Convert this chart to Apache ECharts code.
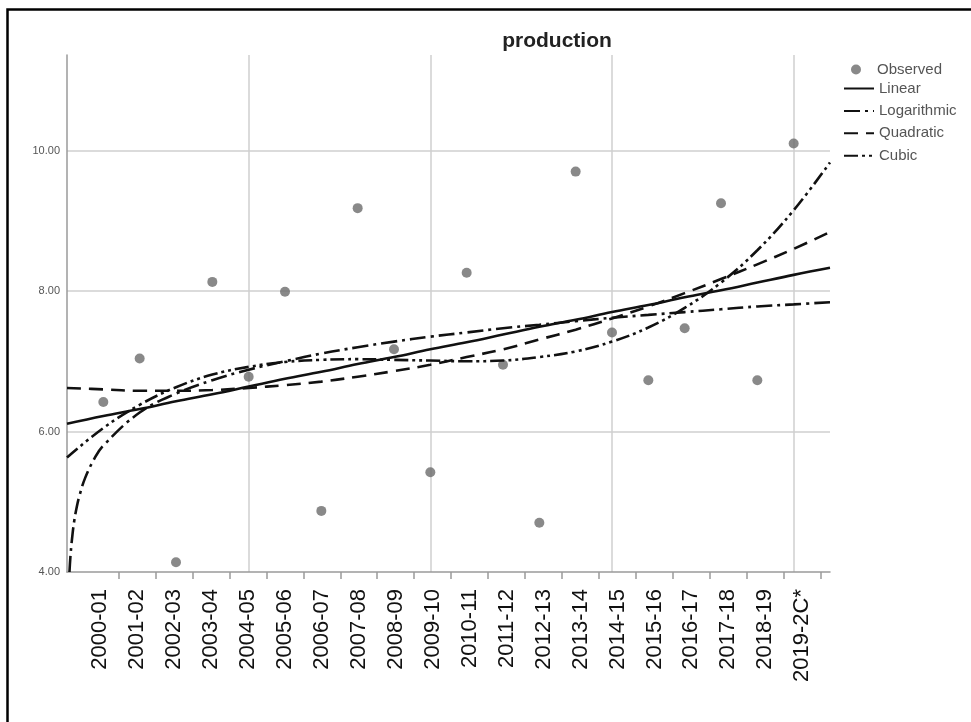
<!DOCTYPE html>
<html>
<head>
<meta charset="utf-8">
<style>
  html, body { margin: 0; padding: 0; background: #fff; }
  #chart { width: 971px; height: 722px; }
</style>
<script src="https://cdn.jsdelivr.net/npm/echarts@6/dist/echarts.min.js"></script>
</head>
<body>
<div id="chart"></div>
<script>
// Fiscal years (time index 1..20)
const years = ['2000-01','2001-02','2002-03','2003-04','2004-05','2005-06','2006-07',
  '2007-08','2008-09','2009-10','2010-11','2011-12','2012-13','2013-14','2014-15',
  '2015-16','2016-17','2017-18','2018-19','2019-2C*'];

// Observed production
const observed = [6.42, 7.04, 4.14, 8.13, 6.78, 7.99, 4.87, 9.18, 7.17, 5.42,
  8.26, 6.95, 4.70, 9.70, 7.41, 6.73, 7.47, 9.25, 6.73, 10.10];

// Fitted curves sampled along the time index
const curveT = [0,1,2,3,4,5,6,7,8,9,10,11,12,13,14,15,16,17,18,19,20,21];
const linearFit = [6.11, 6.22, 6.32, 6.43, 6.53, 6.64, 6.75, 6.85, 6.96, 7.06, 7.17,
  7.27, 7.38, 7.49, 7.59, 7.70, 7.80, 7.91, 8.01, 8.12, 8.23, 8.33];
const quadraticFit = [6.62, 6.60, 6.58, 6.58, 6.59, 6.62, 6.66, 6.71, 6.78, 6.86, 6.95,
  7.06, 7.17, 7.31, 7.45, 7.61, 7.78, 7.97, 8.17, 8.38, 8.60, 8.84];
const cubicFit = [5.63, 6.05, 6.38, 6.63, 6.81, 6.92, 6.99, 7.02, 7.03, 7.02, 7.01,
  7.00, 7.01, 7.06, 7.14, 7.28, 7.48, 7.76, 8.12, 8.58, 9.15, 9.83];
const logT = [0.068, 0.1, 0.15, 0.2, 0.27, 0.35, 0.5, 0.75, 1, 2, 3, 4, 5, 6, 7, 8, 9, 10,
  11, 12, 13, 14, 15, 16, 17, 18, 19, 20, 21];
const logarithmicFit = [4.00, 4.26, 4.53, 4.73, 4.93, 5.10, 5.34, 5.61, 5.80, 6.27, 6.54,
  6.73, 6.88, 7.00, 7.11, 7.20, 7.28, 7.35, 7.41, 7.47, 7.52, 7.57, 7.62, 7.66, 7.70,
  7.74, 7.78, 7.81, 7.84];

const yTicks = [4, 6, 8, 10];

// Category bands for the year labels along the time axis
const BAND_START = 0.4;
const BAND_STEP = 1.0173;
const labelPos = years.map((_, i) => BAND_START + (i + 0.5) * BAND_STEP);
const tickPos = years.map((_, i) => BAND_START + (i + 1) * BAND_STEP);

const pairs = (xs, ys) => xs.map((x, i) => [x, ys[i]]);

const lineBase = {
  type: 'line',
  showSymbol: false,
  symbol: 'none',
  smooth: 0.4,
  silent: true,
  z: 3,
  itemStyle: { color: 'rgba(0,0,0,0)' }
};

const chart = echarts.init(document.getElementById('chart'), null, { renderer: 'canvas' });

chart.setOption({
  backgroundColor: '#ffffff',
  animation: false,
  textStyle: { fontFamily: 'Liberation Sans, Arial, sans-serif' },
  title: {
    text: 'production',
    left: 552,
    top: 26,
    textAlign: 'center',
    textStyle: { fontSize: 21, fontWeight: 'bold', color: '#222' }
  },
  graphic: [{
    type: 'rect',
    shape: { x: 7.5, y: 9.5, width: 1200, height: 1200 },
    style: { fill: 'none', stroke: '#000', lineWidth: 2.5 },
    silent: true
  }],
  legend: [{
    data: ['Observed'],
    orient: 'vertical',
    left: 846,
    top: 57,
    itemWidth: 32,
    itemHeight: 10,
    textStyle: { fontSize: 15, color: '#555' }
  }, {
    data: ['Linear', 'Logarithmic', 'Quadratic', 'Cubic'],
    orient: 'vertical',
    left: 838,
    top: 76,
    itemWidth: 30,
    itemHeight: 14,
    itemGap: 7.4,
    itemStyle: { opacity: 0 },
    textStyle: { fontSize: 15, color: '#555' }
  }],
  grid: { left: 67, top: 55, width: 763, height: 517 },
  xAxis: [{
    type: 'value',
    min: 0,
    max: 21,
    axisLine: { show: true, lineStyle: { color: '#9a9a9a', width: 1.5 } },
    axisTick: {
      show: true,
      customValues: tickPos,
      length: 7,
      lineStyle: { color: '#9a9a9a', width: 1.5 }
    },
    axisLabel: {
      customValues: labelPos,
      rotate: 90,
      margin: 17,
      fontSize: 22,
      color: '#111',
      formatter: v => {
        const i = Math.round((v - BAND_START) / BAND_STEP - 0.5);
        return years[i] || '';
      }
    },
    splitLine: { show: false }
  }, {
    // carries only the vertical reference lines every five years
    type: 'value',
    min: 0,
    max: 21,
    interval: 5,
    position: 'bottom',
    axisLine: { show: false },
    axisTick: { show: false },
    axisLabel: { show: false },
    splitLine: {
      show: true,
      showMinLine: false,
      showMaxLine: false,
      lineStyle: { color: '#cfcfcf', width: 1.5 }
    }
  }],
  yAxis: {
    type: 'value',
    min: 4,
    max: 11.36,
    interval: 2,
    axisLine: { show: true, lineStyle: { color: '#9a9a9a', width: 1.5 } },
    axisTick: { show: false },
    axisLabel: {
      customValues: yTicks,
      fontSize: 11,
      color: '#555',
      margin: 7,
      formatter: v => v.toFixed(2)
    },
    splitLine: {
      show: true,
      showMinLine: false,
      showMaxLine: false,
      lineStyle: { color: '#cfcfcf', width: 1.5 }
    }
  },
  series: [{
    name: 'Observed',
    type: 'scatter',
    symbol: 'circle',
    symbolSize: 10,
    itemStyle: { color: '#6c6c6c' },
    data: observed.map((v, i) => [i + 1, v]),
    z: 2
  }, Object.assign({}, lineBase, {
    name: 'Linear',
    data: pairs(curveT, linearFit),
    lineStyle: { color: '#111', width: 2.6, type: 'solid' }
  }), Object.assign({}, lineBase, {
    name: 'Logarithmic',
    data: pairs(logT, logarithmicFit),
    lineStyle: { color: '#111', width: 2.6, type: [16, 5, 3, 5] }
  }), Object.assign({}, lineBase, {
    name: 'Quadratic',
    data: pairs(curveT, quadraticFit),
    lineStyle: { color: '#111', width: 2.6, type: [14, 8] }
  }), Object.assign({}, lineBase, {
    name: 'Cubic',
    data: pairs(curveT, cubicFit),
    lineStyle: { color: '#111', width: 2.6, type: [14, 4, 3, 4, 3, 4] }
  })]
});
</script>
</body>
</html>
